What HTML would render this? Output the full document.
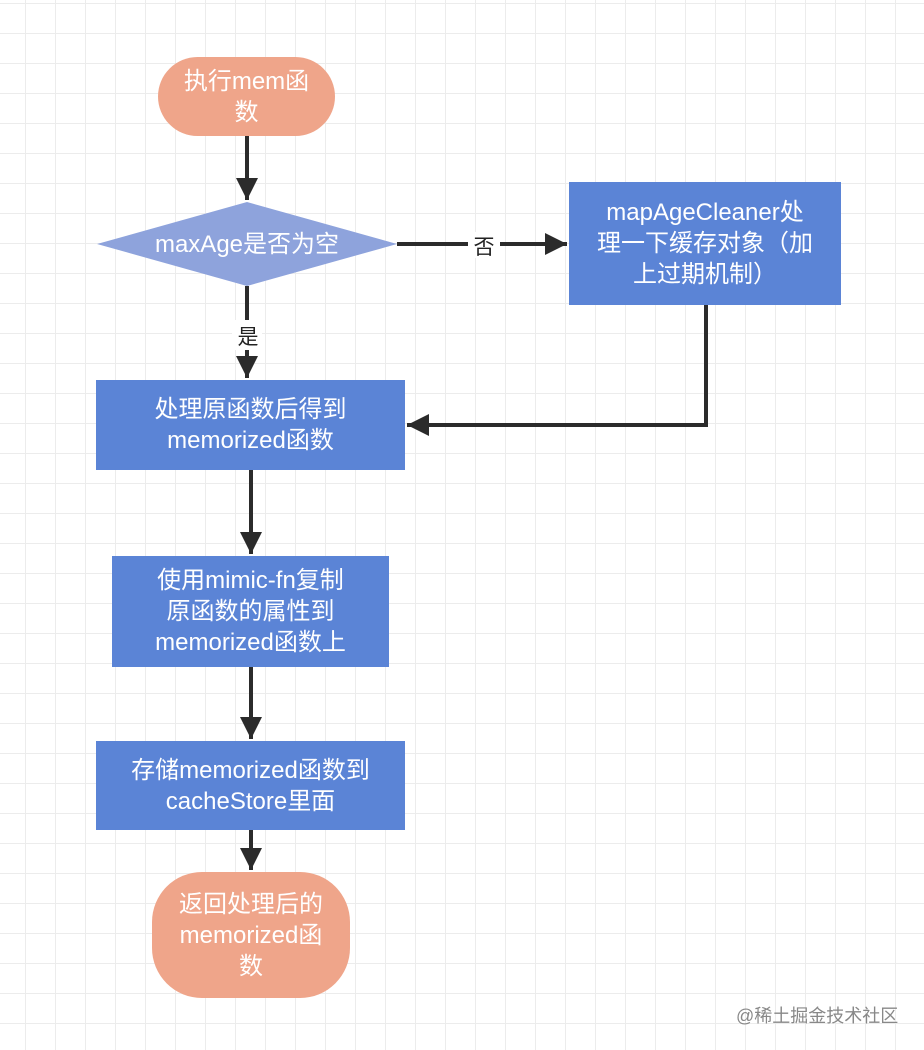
<!DOCTYPE html>
<html><head><meta charset="utf-8"><style>
body{margin:0;width:924px;height:1050px;overflow:hidden;background:#fff;
background-image:linear-gradient(to right,#ececec 1px,transparent 1px),linear-gradient(to bottom,#ececec 1px,transparent 1px);
background-size:30px 30px;background-position:25px 3px;font-family:"Liberation Sans","Noto Sans CJK SC",sans-serif;}
.n{position:absolute;display:flex;align-items:center;justify-content:center;text-align:center;color:#fff;font-size:24px;line-height:31px;box-sizing:border-box;white-space:nowrap;}
.b{background:#5b84d6;}
.t{background:#efa58a;}
</style></head><body>
<svg width="924" height="1050" style="position:absolute;left:0;top:0">
<defs>
<marker id="m" viewBox="0 0 10 10" markerWidth="22" markerHeight="28" refX="10" refY="5" orient="auto" markerUnits="userSpaceOnUse"><path d="M0,0 L10,5 L0,10 z" fill="#2b2b2b"/></marker></defs>
<g stroke="#2b2b2b" stroke-width="4" fill="none">
<line x1="247" y1="136" x2="247" y2="200" marker-end="url(#m)"/>
<line x1="397" y1="244" x2="567" y2="244" marker-end="url(#m)"/>
<line x1="247" y1="286" x2="247" y2="378" marker-end="url(#m)"/>
<polyline points="706,305 706,425 407,425" marker-end="url(#m)"/>
<line x1="251" y1="470" x2="251" y2="554" marker-end="url(#m)"/>
<line x1="251" y1="667" x2="251" y2="739" marker-end="url(#m)"/>
<line x1="251" y1="830" x2="251" y2="870" marker-end="url(#m)"/>
</g>
<polygon points="97,244 247,202 397,244 247,286" fill="#8ea3dc"/>
<text x="247" y="252" fill="#fff" font-size="24" text-anchor="middle" font-family="Liberation Sans,Noto Sans CJK SC,sans-serif">maxAge是否为空</text>
<rect x="468" y="232" width="32" height="26" fill="#fff"/>
<text x="484" y="254" fill="#222" font-size="21" text-anchor="middle" font-family="Noto Sans CJK SC,sans-serif">否</text>
<rect x="232" y="320" width="30" height="30" fill="#fff"/>
<text x="248" y="344" fill="#222" font-size="21" text-anchor="middle" font-family="Noto Sans CJK SC,sans-serif">是</text>
</svg>
<div class="n t" style="left:158px;top:57px;width:177px;height:79px;border-radius:40px">执行mem函<br>数</div>
<div class="n b" style="left:569px;top:182px;width:272px;height:123px">mapAgeCleaner处<br>理一下缓存对象（加<br>上过期机制）</div>
<div class="n b" style="left:96px;top:380px;width:309px;height:90px">处理原函数后得到<br>memorized函数</div>
<div class="n b" style="left:112px;top:556px;width:277px;height:111px">使用mimic-fn复制<br>原函数的属性到<br>memorized函数上</div>
<div class="n b" style="left:96px;top:741px;width:309px;height:89px">存储memorized函数到<br>cacheStore里面</div>
<div class="n t" style="left:152px;top:872px;width:198px;height:126px;border-radius:50px">返回处理后的<br>memorized函<br>数</div>
<div style="position:absolute;left:736px;top:1002px;font-size:18px;color:#888;font-family:'Liberation Sans','Noto Sans CJK SC',sans-serif">@稀土掘金技术社区</div>
</body></html>
